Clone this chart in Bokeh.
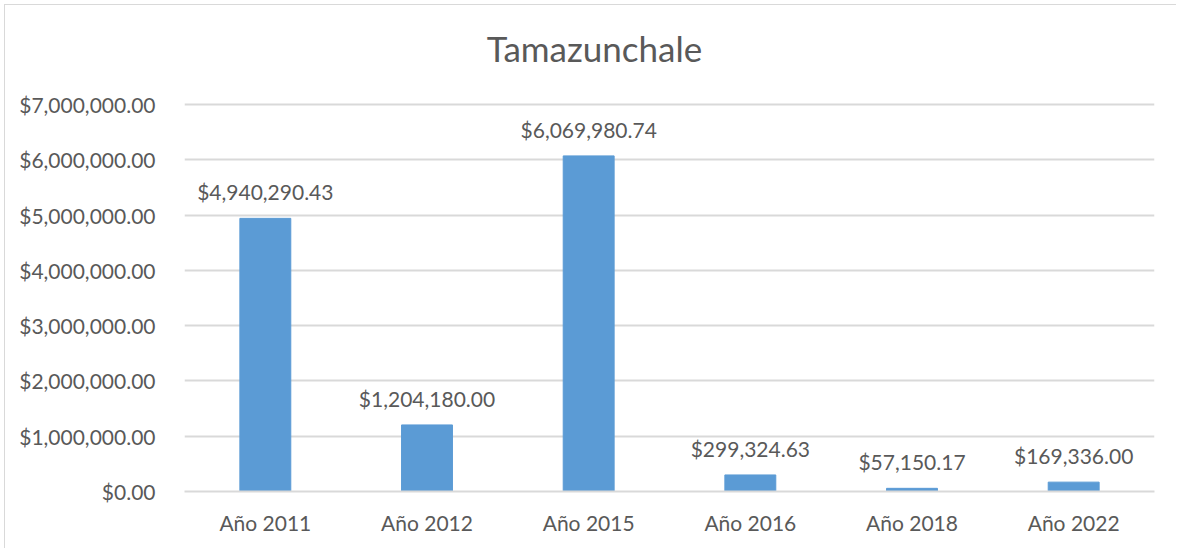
from bokeh.plotting import figure
from bokeh.models import ColumnDataSource, LabelSet, Label, NumeralTickFormatter, FixedTicker
from bokeh.core.properties import value
from bokeh.embed import file_html
from bokeh.resources import INLINE

categories = ["Año 2011", "Año 2012", "Año 2015", "Año 2016", "Año 2018", "Año 2022"]
values = [4940290.43, 1204180.00, 6069980.74, 299324.63, 57150.17, 169336.00]
value_labels = ["$4,940,290.43", "$1,204,180.00", "$6,069,980.74", "$299,324.63", "$57,150.17", "$169,336.00"]
y_ticks = [0, 1000000, 2000000, 3000000, 4000000, 5000000, 6000000, 7000000]
title_text = "Tamazunchale"

FONT = "Lato"
TXT = "#595959"
GRID = "#D9D9D9"

src = ColumnDataSource(dict(cat=categories, val=values, lab=value_labels))

# frame extends above the top gridline so the title can sit inside it
p = figure(x_range=categories, y_range=(0, 8537000), width=1172, height=544,
           output_backend="svg", toolbar_location=None,
           min_border_left=179, min_border_right=23, min_border_top=14, min_border_bottom=58)
p.styles = {"border-left": "1px solid #D9D9D9", "border-top": "1px solid #D9D9D9",
            "margin-left": "4px", "margin-top": "4px"}
p.outline_line_color = None
p.background_fill_color = "white"
p.border_fill_color = "white"

p.vbar(x="cat", top="val", width=0.315, source=src, color="#5B9BD5", line_color="#5B9BD5")

p.yaxis.ticker = FixedTicker(ticks=y_ticks)
p.yaxis.formatter = NumeralTickFormatter(format="$0,0.00")
p.yaxis.axis_line_color = None
p.yaxis.major_tick_line_color = None
p.yaxis.minor_tick_line_color = None
p.yaxis.major_label_text_font = FONT
p.yaxis.major_label_text_font_size = "21px"
p.yaxis.major_label_text_color = TXT
p.yaxis.major_label_standoff = 23

p.xaxis.axis_line_color = GRID
p.xaxis.axis_line_width = 2
p.xaxis.major_tick_line_color = None
p.xaxis.minor_tick_line_color = None
p.xaxis.major_label_text_font = FONT
p.xaxis.major_label_text_font_size = "21px"
p.xaxis.major_label_text_color = TXT
p.xaxis.major_label_standoff = 12

p.xgrid.grid_line_color = None
p.ygrid.grid_line_color = GRID
p.ygrid.grid_line_width = 2

labels = LabelSet(x="cat", y="val", text="lab", source=src, text_align="center",
                  text_baseline="alphabetic", y_offset=18, text_font=value(FONT),
                  text_font_size=value("21px"), text_color=value(TXT))
p.add_layout(labels)

t = Label(x=410, y=444, x_units="screen", y_units="screen", text=title_text,
          text_align="center", text_baseline="alphabetic",
          text_font=FONT, text_font_size="35px", text_color=TXT)
p.add_layout(t)

open("out.html", "w").write(file_html(p, INLINE))
